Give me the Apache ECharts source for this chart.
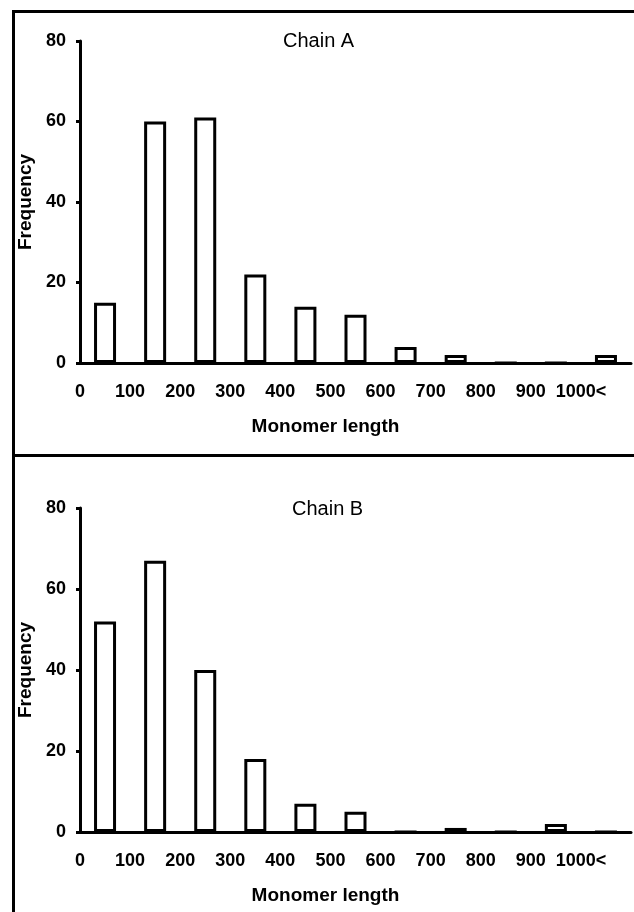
<!DOCTYPE html>
<html>
<head>
<meta charset="utf-8">
<script src="https://cdn.jsdelivr.net/npm/echarts@6/dist/echarts.min.js"></script>
<style>
  html, body { margin: 0; padding: 0; background: #fff; }
  #chart { width: 634px; height: 912px; }
</style>
</head>
<body>
<div id="chart"></div>
<script>
// bins (11 classes of monomer length)
var categories = ["0-100", "100-200", "200-300", "300-400", "400-500", "500-600",
  "600-700", "700-800", "800-900", "900-1000", "1000<"];
// labels shown at the bin boundaries
var tickLabels = ["0", "100", "200", "300", "400", "500", "600", "700", "800", "900", "1000<"];
var chainA = [15, 60, 61, 22, 14, 12, 4, 2, 0, 0, 2];
var chainB = [52, 67, 40, 18, 7, 5, 0, 1, 0, 2, 0];

var FONT = "Liberation Sans, Arial, sans-serif";
var grids = [
  { left: 80, top: 41, width: 553, height: 322 },
  { left: 80, top: 508, width: 553, height: 324 }
];

var xAxes = [], yAxes = [], series = [];
[chainA, chainB].forEach(function (data, i) {
  // category axis: carries the bars, line and ticks at bin edges
  xAxes.push({
    type: "category", gridIndex: i, position: "bottom",
    data: categories, boundaryGap: true,
    axisLine: { lineStyle: { color: "#000", width: 3 } },
    axisTick: { length: 5, lineStyle: { color: "#000", width: 3 } },
    axisLabel: { show: false },
    splitLine: { show: false }
  });
  // value axis only used to put labels on the bin edges
  xAxes.push({
    type: "value", gridIndex: i, position: "bottom",
    min: 0, max: 1100, interval: 100,
    axisLine: { show: false }, axisTick: { show: false }, splitLine: { show: false },
    axisLabel: {
      margin: 20, color: "#000", fontFamily: FONT, fontSize: 18, fontWeight: "bold",
      showMinLabel: true, showMaxLabel: true,
      formatter: function (v) { return tickLabels[Math.round(v / 100)] || ""; }
    },
    name: "Monomer length", nameLocation: "middle", nameGap: 54,
    nameTextStyle: { color: "#000", fontFamily: FONT, fontSize: 19, fontWeight: "bold", padding: [0, 60, 0, 0] }
  });
  yAxes.push({
    type: "value", gridIndex: i, min: 0, max: 80, interval: 20,
    axisLine: { show: true, lineStyle: { color: "#000", width: 3 } },
    axisTick: { show: true, length: 4, lineStyle: { color: "#000", width: 3 } },
    splitLine: { show: false },
    axisLabel: { margin: 14, color: "#000", fontFamily: FONT, fontSize: 18, fontWeight: "bold" },
    name: "Frequency", nameLocation: "middle", nameGap: 44, nameRotate: 90,
    nameTextStyle: { color: "#000", fontFamily: FONT, fontSize: 19, fontWeight: "bold" }
  });
  series.push({
    type: "bar", xAxisIndex: i * 2, yAxisIndex: i, data: data,
    barWidth: 22,
    itemStyle: { color: "#fff", borderColor: "#000", borderWidth: 3 },
    silent: true
  });
});

var chart = echarts.init(document.getElementById("chart"));
chart.setOption({
  animation: false,
  backgroundColor: "#fff",
  title: [
    { text: "Chain A", left: 278, top: 26, textStyle: { color: "#000", fontFamily: FONT, fontSize: 20, fontWeight: "normal" } },
    { text: "Chain B", left: 287, top: 494, textStyle: { color: "#000", fontFamily: FONT, fontSize: 20, fontWeight: "normal" } }
  ],
  grid: grids,
  xAxis: xAxes,
  yAxis: yAxes,
  series: series,
  graphic: [
    // panel frames
    { type: "line", shape: { x1: 12, y1: 11.5, x2: 634, y2: 11.5 }, style: { stroke: "#000", lineWidth: 3 } },
    { type: "line", shape: { x1: 13.5, y1: 10, x2: 13.5, y2: 912 }, style: { stroke: "#000", lineWidth: 3 } },
    { type: "line", shape: { x1: 12, y1: 455.5, x2: 634, y2: 455.5 }, style: { stroke: "#000", lineWidth: 3 } }
  ]
});
</script>
</body>
</html>
